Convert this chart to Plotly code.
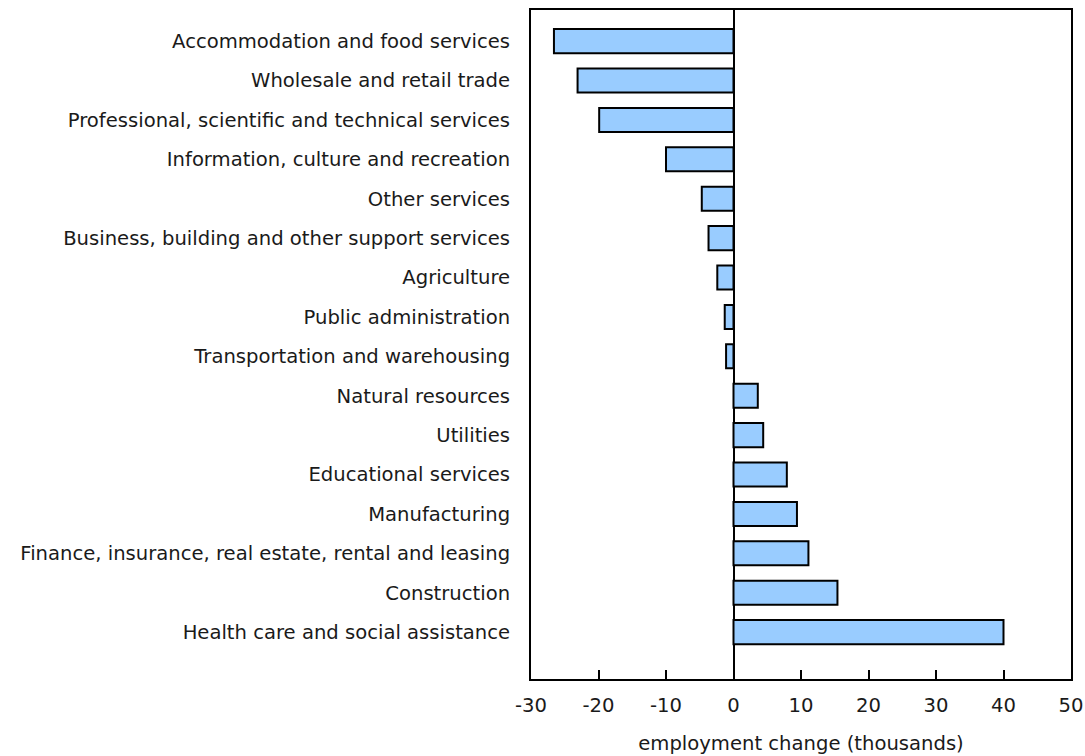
import plotly.graph_objects as go

categories = [
    "Accommodation and food services",
    "Wholesale and retail trade",
    "Professional, scientific and technical services",
    "Information, culture and recreation",
    "Other services",
    "Business, building and other support services",
    "Agriculture",
    "Public administration",
    "Transportation and warehousing",
    "Natural resources",
    "Utilities",
    "Educational services",
    "Manufacturing",
    "Finance, insurance, real estate, rental and leasing",
    "Construction",
    "Health care and social assistance",
]
values = [-26.6, -23.1, -19.9, -10.0, -4.7, -3.7, -2.4, -1.3, -1.1,
          3.6, 4.4, 7.9, 9.4, 11.1, 15.4, 40.0]
x_ticks = [-30, -20, -10, 0, 10, 20, 30, 40, 50]
x_title = "employment change (thousands)"

FONT = "DejaVu Sans, Verdana, sans-serif"
FS = 19.6

fig = go.Figure(go.Bar(
    x=values,
    y=categories,
    orientation="h",
    width=0.61,
    marker=dict(color="#99ccff", line=dict(color="#000000", width=2)),
    hoverinfo="skip",
))

n = len(categories)
fig.update_layout(
    width=1085, height=756,
    margin=dict(l=531, r=14, t=10, b=77),
    plot_bgcolor="white", paper_bgcolor="white",
    font=dict(family=FONT, size=FS, color="#1a1a1a"),
    showlegend=False,
)
fig.update_xaxes(
    range=[-30, 50],
    tickvals=x_ticks,
    ticktext=[str(v) for v in x_ticks],
    ticks="inside", ticklen=9, tickwidth=2, tickcolor="#000000",
    showline=True, linecolor="#000000", linewidth=2, mirror=True,
    showgrid=False,
    zeroline=True, zerolinecolor="#000000", zerolinewidth=2,
    ticklabelstandoff=7,
    title=dict(text=x_title, standoff=21, font=dict(size=FS)),
    tickfont=dict(size=FS),
    automargin=False,
)
fig.update_yaxes(
    type="category",
    categoryorder="array", categoryarray=categories,
    range=[n - 1 + 1.19, -0.79],
    showline=True, linecolor="#000000", linewidth=2, mirror=True,
    showgrid=False, ticks="",
    ticklabelstandoff=15,
    tickfont=dict(size=FS),
    automargin=False,
)

fig.write_html("out.html", config={"displayModeBar": False},
               post_script="document.body.style.margin='0';")
